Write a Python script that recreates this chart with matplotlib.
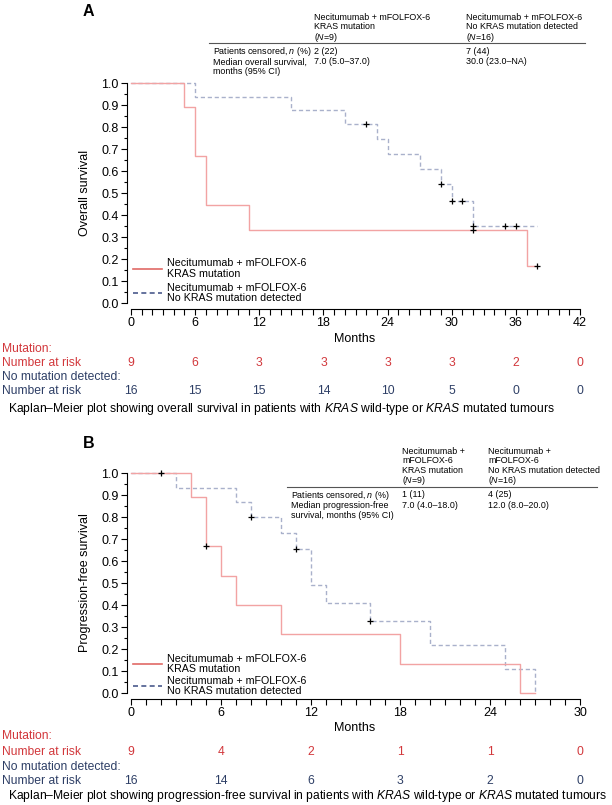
import matplotlib
matplotlib.use("Agg")
import matplotlib.pyplot as plt
from matplotlib.lines import Line2D
import matplotlib.transforms as mtransforms

plt.rcParams['font.family'] = ['Liberation Sans', 'DejaVu Sans']
plt.rcParams['mathtext.fontset'] = 'custom'
plt.rcParams['mathtext.rm'] = 'Liberation Sans'
plt.rcParams['mathtext.it'] = 'Liberation Sans:italic'

# ---------------- data ----------------
# Panel A: overall survival
os_mut_t = [0, 5, 6, 7, 11, 37, 38]
os_mut_s = [1.0, 0.889, 0.667, 0.444, 0.333, 0.167, 0.167]
os_mut_cens_t = [32, 38]
os_mut_cens_s = [0.333, 0.167]

os_wt_t = [0, 6, 15, 20, 23, 24, 27, 29, 30, 32, 38]
os_wt_s = [1.0, 0.9375, 0.875, 0.8125, 0.745, 0.677, 0.609, 0.542, 0.464, 0.348, 0.348]
os_wt_cens_t = [22, 29, 30, 31, 32, 35, 36]
os_wt_cens_s = [0.8125, 0.542, 0.464, 0.464, 0.348, 0.348, 0.348]

os_ticks = [0, 6, 12, 18, 24, 30, 36, 42]
os_risk_mut = [9, 6, 3, 3, 3, 3, 2, 0]
os_risk_wt = [16, 15, 15, 14, 10, 5, 0, 0]

# Panel B: progression-free survival
pfs_mut_t = [0, 4, 5, 6, 7, 10, 18, 26, 27]
pfs_mut_s = [1.0, 0.889, 0.667, 0.533, 0.40, 0.267, 0.133, 0.0, 0.0]
pfs_mut_cens_t = [5]
pfs_mut_cens_s = [0.667]

pfs_wt_t = [0, 3, 7, 8, 10, 11, 12, 13, 16, 20, 25, 27]
pfs_wt_s = [1.0, 0.933, 0.867, 0.80, 0.727, 0.655, 0.491, 0.409, 0.327, 0.218, 0.109, 0.0]
pfs_wt_cens_t = [2, 8, 11, 16]
pfs_wt_cens_s = [1.0, 0.80, 0.655, 0.327]

pfs_ticks = [0, 6, 12, 18, 24, 30]
pfs_risk_mut = [9, 4, 2, 1, 1, 0]
pfs_risk_wt = [16, 14, 6, 3, 2, 0]

legend_mut = "Necitumumab + mFOLFOX-6\nKRAS mutation"
legend_wt = "Necitumumab + mFOLFOX-6\nNo KRAS mutation detected"

tableA_head1 = ["Necitumumab + mFOLFOX-6", "KRAS mutation", "($\\mathit{N}$=9)"]
tableA_head2 = ["Necitumumab + mFOLFOX-6", "No KRAS mutation detected", "($\\mathit{N}$=16)"]
tableA_rows = ["Patients censored, $\\mathit{n}$ (%)", "Median overall survival,", "months (95% CI)"]
tableA_col1 = ["2 (22)", "7.0 (5.0–37.0)"]
tableA_col2 = ["7 (44)", "30.0 (23.0–NA)"]

tableB_head1 = ["Necitumumab +", "mFOLFOX-6", "KRAS mutation", "($\\mathit{N}$=9)"]
tableB_head2 = ["Necitumumab +", "mFOLFOX-6", "No KRAS mutation detected", "($\\mathit{N}$=16)"]
tableB_rows = ["Patients censored, $\\mathit{n}$ (%)", "Median progression-free", "survival, months (95% CI)"]
tableB_col1 = ["1 (11)", "7.0 (4.0–18.0)"]
tableB_col2 = ["4 (25)", "12.0 (8.0–20.0)"]

captionA = "Kaplan–Meier plot showing overall survival in patients with $\\mathit{KRAS}$ wild-type or $\\mathit{KRAS}$ mutated tumours"
captionB = "Kaplan–Meier plot showing progression-free survival in patients with $\\mathit{KRAS}$ wild-type or $\\mathit{KRAS}$ mutated tumours"

# ---------------- style ----------------
W, H = 612, 805
RED_CURVE = "#f2a3a3"
BLUE_CURVE = "#a9b1cb"
RED_LEG = "#e06a66"
BLUE_LEG = "#4a5a8c"
RED_TXT = "#d2383c"
BLUE_TXT = "#2e3f66"
FS = 9.0      # ticks / axis labels
RFS = 8.7     # risk table / caption
LFS = 7.7     # legend
TFS = 6.4     # summary tables

fig = plt.figure(figsize=(W / 100, H / 100), dpi=100)


def fx(px):
    return px / W


def fy(py):
    return 1 - py / H


def make_panel(top, bottom, xmax, ticks, ylabel,
               mt, ms, mct, mcs, wt, ws, wct, wcs, leg_y, leg_sp):
    ax = fig.add_axes([fx(131), fy(bottom), (580 - 131) / W, (bottom - top) / H])
    ax.step(mt, ms, where='post', color=RED_CURVE, lw=1.0, clip_on=False, zorder=3)
    ax.step(wt, ws, where='post', color=BLUE_CURVE, lw=1.0, ls=(0, (3, 2)),
            clip_on=False, zorder=2)
    ax.plot(mct, mcs, ls='none', marker='+', color='black', ms=5, mew=0.9,
            clip_on=False, zorder=4)
    ax.plot(wct, wcs, ls='none', marker='+', color='black', ms=5, mew=0.9,
            clip_on=False, zorder=4)
    ax.set_xlim(0, xmax)
    ax.set_ylim(0, 1)
    ax.set_xticks(ticks)
    ax.set_xticks(range(0, xmax + 1), minor=True)
    ax.set_yticks([i / 10 for i in range(11)])
    ax.set_yticklabels([f"{i / 10:.1f}" for i in range(11)])
    ax.set_yticks([i / 20 for i in range(21)], minor=True)
    for s in ['top', 'right']:
        ax.spines[s].set_visible(False)
    ax.spines['left'].set_position(('outward', 3))
    ax.spines['bottom'].set_position(('outward', 4))
    for s in ['left', 'bottom']:
        ax.spines[s].set_linewidth(0.8)
    ax.tick_params(axis='both', which='major', length=4, width=0.8,
                   labelsize=FS, pad=2)
    ax.tick_params(axis='x', which='minor', length=4, width=0.8)
    ax.tick_params(axis='y', which='minor', length=2.5, width=0.8)
    ax.set_ylabel(ylabel, fontsize=FS)
    ax.yaxis.set_label_coords((91 - 131) / 449, 0.5)
    handles = [Line2D([], [], color=RED_LEG, lw=1.2),
               Line2D([], [], color=BLUE_LEG, lw=1.2, ls=(0, (3, 2)))]
    leg = ax.legend(handles, [legend_mut, legend_wt], loc='lower left',
                    bbox_to_anchor=(0.004, leg_y), frameon=False, fontsize=LFS,
                    handlelength=2.7, handletextpad=0.5, labelspacing=leg_sp,
                    borderaxespad=0.0, borderpad=0.0)
    for t in leg.get_texts():
        t.set_linespacing(1.05)
    return ax


def risk_table(ax, ticks, rm, rw, y_months, y_rows, caption, y_cap):
    fig.text(fx(355), fy(y_months), "Months", fontsize=FS, ha='center', va='center')
    tr = mtransforms.blended_transform_factory(ax.transData, fig.transFigure)
    fig.text(fx(2), fy(y_rows[0]), "Mutation:", color=RED_TXT, fontsize=RFS, va='center')
    fig.text(fx(2), fy(y_rows[1]), "Number at risk", color=RED_TXT, fontsize=RFS, va='center')
    fig.text(fx(2), fy(y_rows[2]), "No mutation detected:", color=BLUE_TXT, fontsize=RFS, va='center')
    fig.text(fx(2), fy(y_rows[3]), "Number at risk", color=BLUE_TXT, fontsize=RFS, va='center')
    for t, a, b in zip(ticks, rm, rw):
        ax.text(t, fy(y_rows[1]), str(a), transform=tr, color=RED_TXT, fontsize=RFS,
                ha='center', va='center')
        ax.text(t, fy(y_rows[3]), str(b), transform=tr, color=BLUE_TXT, fontsize=RFS,
                ha='center', va='center')
    fig.text(fx(8), fy(y_cap), caption, fontsize=RFS, ha='left', va='center')


def table(x_left, x_c1, x_c2, x_line0, x_line1, y_head, dy_head, y_line, y_rows,
          h1, h2, rows, c1, c2):
    for i, (a, b) in enumerate(zip(h1, h2)):
        y = y_head + i * dy_head
        fig.text(fx(x_c1), fy(y), a, fontsize=TFS, ha='left', va='center_baseline')
        fig.text(fx(x_c2), fy(y), b, fontsize=TFS, ha='left', va='center_baseline')
    fig.add_artist(Line2D([fx(x_line0), fx(x_line1)], [fy(y_line), fy(y_line)],
                          color='#555555', lw=0.8, transform=fig.transFigure))
    for i, r in enumerate(rows):
        fig.text(fx(x_left), fy(y_rows[i]), r, fontsize=TFS, ha='left', va='center_baseline')
    for i in range(2):
        fig.text(fx(x_c1), fy(y_rows[i]), c1[i], fontsize=TFS, ha='left', va='center_baseline')
        fig.text(fx(x_c2), fy(y_rows[i]), c2[i], fontsize=TFS, ha='left', va='center_baseline')


# ---------------- Panel A ----------------
fig.text(fx(83), fy(11), "A", fontsize=11.5, fontweight='bold', va='center')
axA = make_panel(83, 303, 42, os_ticks, "Overall survival",
                 os_mut_t, os_mut_s, os_mut_cens_t, os_mut_cens_s,
                 os_wt_t, os_wt_s, os_wt_cens_t, os_wt_cens_s, leg_y=0.0, leg_sp=0.35)
table(213, 314, 466, 209, 585, 16, 9.5, 43.5, [50, 61, 71],
      tableA_head1, tableA_head2, tableA_rows, tableA_col1, tableA_col2)
risk_table(axA, os_ticks, os_risk_mut, os_risk_wt, 339, [349, 363, 377, 391], captionA, 409)

# ---------------- Panel B ----------------
fig.text(fx(83), fy(443), "B", fontsize=11.5, fontweight='bold', va='center')
axB = make_panel(473, 693, 30, pfs_ticks, "Progression-free survival",
                 pfs_mut_t, pfs_mut_s, pfs_mut_cens_t, pfs_mut_cens_s,
                 pfs_wt_t, pfs_wt_s, pfs_wt_cens_t, pfs_wt_cens_s, leg_y=-0.015, leg_sp=0.15)
table(291, 402, 488, 287, 597, 450, 9.5, 487, [493.5, 504.5, 515],
      tableB_head1, tableB_head2, tableB_rows, tableB_col1, tableB_col2)
risk_table(axB, pfs_ticks, pfs_risk_mut, pfs_risk_wt, 728, [736, 752, 767, 781], captionB, 796)

fig.savefig("out.png", dpi=100)
